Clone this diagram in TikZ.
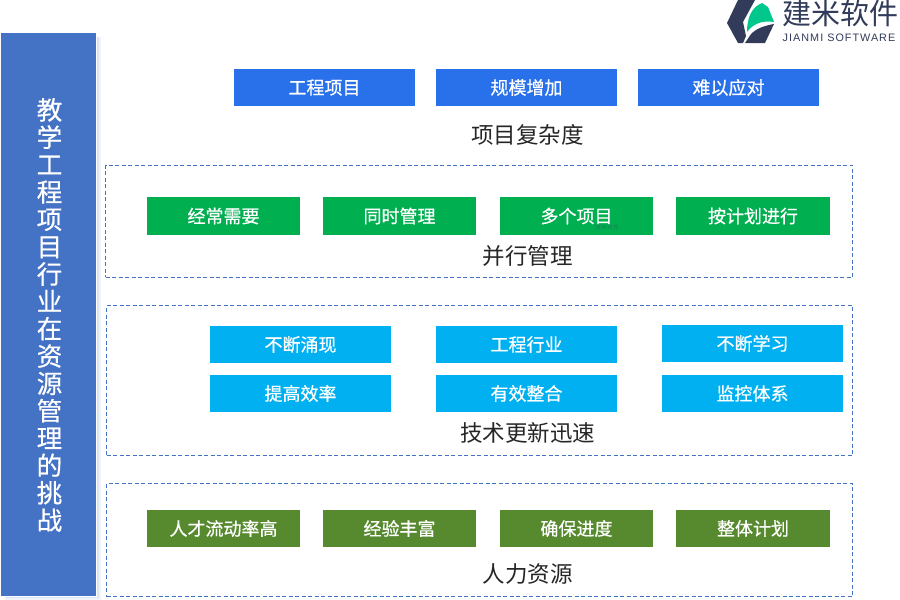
\documentclass[tikz,border=0pt]{standalone}
\usepackage{xcolor}
\usepackage{fontspec}
\setmainfont{Liberation Sans}
\newfontfamily\cjk{Noto Sans CJK SC}
\newfontfamily\cjkbold[FakeBold=0.6]{Noto Sans CJK SC}
\newfontfamily\logofont[LetterSpace=9.5]{Liberation Sans}
\usetikzlibrary{positioning}
\definecolor{panelblue}{HTML}{4472C4}
\definecolor{rowblue}{HTML}{2970EB}
\definecolor{rowgreen}{HTML}{00B050}
\definecolor{rowcyan}{HTML}{00B0F0}
\definecolor{rowolive}{HTML}{578A2F}
\definecolor{logodark}{HTML}{323C5A}
\definecolor{logogreen}{HTML}{00C88C}
\definecolor{labeltext}{HTML}{262626}
\tikzset{
  item/.style = {rectangle,inner sep=0pt,text=white,font=\cjkbold\fontsize{18}{20}\selectfont},
  wide item/.style = {item,minimum width=181pt,minimum height=37pt},
  short item/.style = {item,minimum width=153pt,minimum height=38pt},
  heading/.style = {inner sep=0pt,text=labeltext,font=\cjk\fontsize{22.5}{26}\selectfont},
  frame/.style = {draw=panelblue,dash pattern=on 4pt off 2.5pt,line width=1pt,inner sep=0pt}
}

\begin{document}
\begin{tikzpicture}[x=1pt,y=-1pt]
            \useasboundingbox (0,0) rectangle (900,600);
            \fill[white] (0,0) rectangle (900,600);

            % left panel
            \fill[panelblue!8] (5,37) rectangle (101,600);
            \fill[panelblue!20] (5,37) rectangle (99,598);
            \node[rectangle,fill=panelblue,draw=white,line width=1pt,minimum width=96pt,minimum height=564pt,inner sep=0pt] (panel) at (48,314.5) {};
            \node[inner sep=0pt,text=white,align=center,font=\cjkbold\fontsize{25.5}{27.35}\selectfont] (paneltext) at (49.5,315)
                {教\\学\\工\\程\\项\\目\\行\\业\\在\\资\\源\\管\\理\\的\\挑\\战};

            % complexity
            \node[wide item,fill=rowblue] (b1) at (324.5,87.5) {工程项目};
            \node[wide item,fill=rowblue] (b2) at (526.5,87.5) {规模增加};
            \node[wide item,fill=rowblue] (b3) at (728.5,87.5) {难以应对};
            \node[heading] (blabel) at (527.5,134.5) {项目复杂度};

            % parallel
            \node[frame,minimum width=747pt,minimum height=112pt] (gframe) at (479,221) {};
            \node[short item,fill=rowgreen] (g1) at (223.5,216) {经常需要};
            \node[short item,fill=rowgreen] (g2) at (399.5,216) {同时管理};
            \node[short item,fill=rowgreen] (g3) at (576.5,216) {多个项目};
            \node[short item,fill=rowgreen,minimum width=154pt] (g4) at (753,216) {按计划进行};
            \node[heading] (glabel) at (527.5,255.5) {并行管理};
            \node[inner sep=0pt,text=logodark,opacity=0.35,font=\cjk\fontsize{6}{7}\selectfont] (gmark) at (607,227) {建米软件};

            % technology
            \node[frame,minimum width=746pt,minimum height=150pt] (cframe) at (479.5,380.5) {};
            \node[wide item,fill=rowcyan] (c1) at (300.5,344.5) {不断涌现};
            \node[wide item,fill=rowcyan] (c2) at (526.5,344.5) {工程行业};
            \node[wide item,fill=rowcyan] (c3) at (752.5,343.5) {不断学习};
            \node[wide item,fill=rowcyan] (c4) at (300.5,393.5) {提高效率};
            \node[wide item,fill=rowcyan] (c5) at (526.5,393.5) {有效整合};
            \node[wide item,fill=rowcyan] (c6) at (752.5,393.5) {监控体系};
            \node[heading] (clabel) at (527.5,432.5) {技术更新迅速};

            % people
            \node[frame,minimum width=746pt,minimum height=113pt] (oframe) at (479.5,540) {};
            \node[short item,fill=rowolive,minimum height=37pt] (o1) at (223.5,528.5) {人才流动率高};
            \node[short item,fill=rowolive,minimum height=37pt] (o2) at (399.5,528.5) {经验丰富};
            \node[short item,fill=rowolive,minimum height=37pt] (o3) at (576.5,528.5) {确保进度};
            \node[short item,fill=rowolive,minimum width=154pt,minimum height=37pt] (o4) at (753,528.5) {整体计划};
            \node[heading] (olabel) at (527.5,574.5) {人力资源};

            % logo
            \fill[logodark] (738,0) -- (755,0) -- (743,22) -- (746,36) -- (743,43) -- (738,43) -- (727,23) -- cycle;
            \fill[logodark] (745,43) -- (765,43) -- (774,24) .. controls (762,26) and (753,30) .. (749,37) -- cycle;
            \fill[logogreen] (747,32) .. controls (747,17) and (752,7) .. (762,3) -- (768,7) -- (774,22) .. controls (762,20) and (753,24) .. (747,32) -- cycle;
            \node[inner sep=0pt,text=logodark,font=\cjk\fontsize{29}{32}\selectfont] (logoname) at (840,13) {建米软件};
            \node[inner sep=0pt,text=logodark,font=\logofont\fontsize{10.8}{12}\selectfont] (logosub) at (839,38) {JIANMI SOFTWARE};
        \end{tikzpicture}
\end{document}
